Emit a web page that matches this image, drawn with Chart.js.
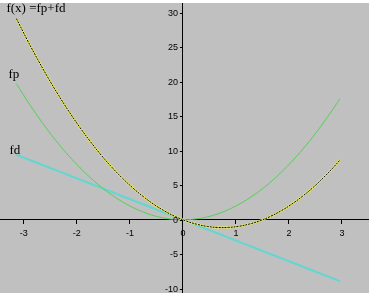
<!DOCTYPE html>
<html>
<head>
<meta charset="utf-8">
<script src="https://cdn.jsdelivr.net/npm/chart.js@4.4.0/dist/chart.umd.min.js"></script>
<style>
  html, body { margin: 0; padding: 0; background: #fff; }
  #wrap { position: absolute; left: 0; top: 3px; width: 369px; height: 290px; }
</style>
</head>
<body>
<div id="wrap"><canvas id="chart" width="369" height="290"></canvas></div>
<script>
// values
const xs = [-3.14, -2.94, -2.74, -2.54, -2.34, -2.14, -1.94, -1.74, -1.54, -1.34,
  -1.14, -0.94, -0.74, -0.54, -0.34, -0.14, 0.06, 0.26, 0.46, 0.66,
  0.86, 1.06, 1.26, 1.46, 1.66, 1.86, 2.06, 2.26, 2.46, 2.66, 2.86, 2.96];
const fp = [19.72, 17.29, 15.02, 12.9, 10.95, 9.16, 7.53, 6.06, 4.74, 3.59,
  2.6, 1.77, 1.1, 0.58, 0.23, 0.04, 0.01, 0.14, 0.42, 0.87,
  1.48, 2.25, 3.18, 4.26, 5.51, 6.92, 8.49, 10.22, 12.1, 14.15, 16.36, 17.52];
const fd = [9.42, 8.82, 8.22, 7.62, 7.02, 6.42, 5.82, 5.22, 4.62, 4.02,
  3.42, 2.82, 2.22, 1.62, 1.02, 0.42, -0.18, -0.78, -1.38, -1.98,
  -2.58, -3.18, -3.78, -4.38, -4.98, -5.58, -6.18, -6.78, -7.38, -7.98, -8.58, -8.88];
const fx = [29.14, 26.11, 23.24, 20.52, 17.97, 15.58, 13.35, 11.28, 9.36, 7.61,
  6.02, 4.59, 3.32, 2.2, 1.25, 0.46, -0.17, -0.64, -0.96, -1.11,
  -1.1, -0.93, -0.6, -0.12, 0.53, 1.34, 2.31, 3.44, 4.72, 6.17, 7.78, 8.64];
const xTicks = [-3, -2, -1, 0, 1, 2, 3];
const yTicks = [-10, -5, 0, 5, 10, 15, 20, 25, 30];

const pts = ys => xs.map((x, i) => ({ x: x, y: ys[i] }));
const tickFont = '9px Arial, "Liberation Sans", sans-serif';

const bgPlugin = {
  id: 'bg',
  beforeDraw(chart) {
    const c = chart.ctx;
    c.save();
    c.fillStyle = '#c0c0c0';
    c.fillRect(0, 0, chart.width, chart.height);
    c.restore();
  }
};

// y axis labels on the left of the vertical axis, plus the series names
const textPlugin = {
  id: 'texts',
  afterDraw(chart) {
    const c = chart.ctx;
    const sx = chart.scales.x, sy = chart.scales.y;
    const ax = sx.getPixelForValue(0);
    c.save();
    c.strokeStyle = '#000';
    c.lineWidth = 1;
    c.fillStyle = '#000';
    c.font = tickFont;
    c.textAlign = 'right';
    c.textBaseline = 'middle';
    yTicks.forEach(v => {
      const py = Math.round(sy.getPixelForValue(v)) + 0.5;
      c.beginPath();
      c.moveTo(ax - 3, py);
      c.lineTo(ax, py);
      c.stroke();
      c.fillText(String(v), ax - 5, py);
    });

    c.font = '13px "Liberation Serif", "Times New Roman", serif';
    c.textAlign = 'left';
    c.textBaseline = 'bottom';
    const px = sx.getPixelForValue(xs[0]);
    c.fillText('f(x) =fp+fd', px - 10, sy.getPixelForValue(fx[0]) - 4);
    c.fillText('fp', px - 8, sy.getPixelForValue(fp[0]) - 3);
    c.fillText('fd', px - 7, sy.getPixelForValue(fd[0]) + 2);
    c.restore();
  }
};

new Chart(document.getElementById('chart'), {
  type: 'line',
  data: {
    datasets: [
      { label: 'f2', data: pts(fx), borderColor: '#000', borderWidth: 1, borderDash: [2, 1], tension: 0.4, order: 0 },
      { label: 'f', data: pts(fx), borderColor: '#f0f060', borderWidth: 2, tension: 0.4, order: 1 },
      { label: 'fp', data: pts(fp), borderColor: '#55cf55', borderWidth: 1, tension: 0.4, order: 2 },
      { label: 'fd', data: pts(fd), borderColor: '#62d6d0', borderWidth: 2, tension: 0.4, order: 3 }
    ]
  },
  options: {
    responsive: false,
    animation: false,
    layout: { padding: 0 },
    elements: { point: { radius: 0 } },
    plugins: { legend: { display: false }, tooltip: { enabled: false } },
    scales: {
      x: {
        type: 'linear',
        position: { y: 0 },
        min: -3.45, max: 3.51,
        grid: { display: true, drawOnChartArea: false, drawTicks: true, tickLength: 4, color: '#000' },
        border: { display: true, color: '#000', width: 1 },
        ticks: { color: '#000', padding: 4, font: { family: 'Arial, "Liberation Sans", sans-serif', size: 9 } },
        afterBuildTicks: s => { s.ticks = xTicks.map(v => ({ value: v })); }
      },
      y: {
        type: 'linear',
        position: { x: 0 },
        min: -10.6, max: 31.4,
        grid: { display: false },
        border: { display: true, color: '#000', width: 1 },
        ticks: { display: false },
        afterBuildTicks: s => { s.ticks = yTicks.map(v => ({ value: v })); }
      }
    }
  },
  plugins: [bgPlugin, textPlugin]
});
</script>
</body>
</html>
